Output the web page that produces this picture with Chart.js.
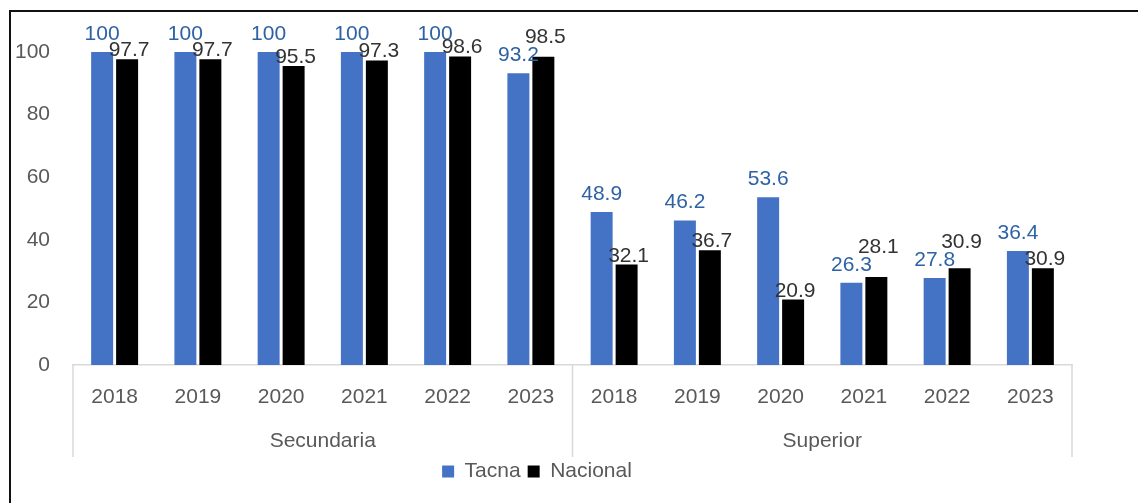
<!DOCTYPE html>
<html>
<head>
<meta charset="utf-8">
<script src="https://cdn.jsdelivr.net/npm/chart.js@4.4.1/dist/chart.umd.min.js"></script>
<style>
    html, body { margin: 0; padding: 0; background: #fff; overflow: hidden; }
    #frame {
        position: absolute; left: 9px; top: 10px;
        width: 1300px; height: 700px;
        border: 2px solid #111;
    }
    #wrap { position: absolute; left: 0; top: 0; width: 1138px; height: 503px; }
</style>
</head>
<body>
<div id="frame"></div>
<div id="wrap"><canvas id="chart" width="1138" height="503"></canvas></div>
<script>
// Categories and values
const years = ['2018', '2019', '2020', '2021', '2022', '2023', '2018', '2019', '2020', '2021', '2022', '2023'];
const groupLabels = ['Secundaria', 'Superior'];
const tacna = [100, 100, 100, 100, 100, 93.2, 48.9, 46.2, 53.6, 26.3, 27.8, 36.4];
const nacional = [97.7, 97.7, 95.5, 97.3, 98.6, 98.5, 32.1, 36.7, 20.9, 28.1, 30.9, 30.9];
const yTicks = [0, 20, 40, 60, 80, 100];

const FONT = "'Liberation Sans', Arial, sans-serif";
const axisGray = '#595959';
const lineGray = '#d9d9d9';

// value labels over each bar; the black label is lifted when it would sit on the blue one
const valueLabels = {
    id: 'valueLabels',
    afterDatasetsDraw(chart) {
        const ctx = chart.ctx;
        const blue = chart.getDatasetMeta(0).data;
        const black = chart.getDatasetMeta(1).data;
        const dsBlue = chart.data.datasets[0];
        const dsBlack = chart.data.datasets[1];
        ctx.save();
        ctx.font = '21px ' + FONT;
        ctx.textAlign = 'center';
        ctx.textBaseline = 'alphabetic';
        blue.forEach((bar, j) => {
            const yBlue = bar.y - dsBlue.labelGap;
            let yBlack = black[j].y - dsBlack.labelGap;
            if (Math.abs(yBlack - yBlue) < 12) yBlack = yBlue - 18;
            ctx.fillStyle = dsBlue.labelColor;
            ctx.fillText(String(dsBlue.data[j]), bar.x, yBlue);
            ctx.fillStyle = dsBlack.labelColor;
            ctx.fillText(String(dsBlack.data[j]), black[j].x + 2, yBlack);
        });
        ctx.restore();
    }
};

// vertical separators of the two-level category axis
const groupLines = {
    id: 'groupLines',
    afterDraw(chart) {
        const x = chart.scales.x;
        const x2 = chart.scales.x2;
        const area = chart.chartArea;
        const mid = (x.getPixelForValue(5) + x.getPixelForValue(6)) / 2;
        const ctx = chart.ctx;
        ctx.save();
        ctx.strokeStyle = lineGray;
        ctx.lineWidth = 1.5;
        [area.left, mid, area.right].forEach(px => {
            ctx.beginPath();
            ctx.moveTo(px, area.bottom);
            ctx.lineTo(px, x2.bottom + 3);
            ctx.stroke();
        });
        ctx.restore();
    }
};

new Chart(document.getElementById('chart'), {
    type: 'bar',
    data: {
        labels: years,
        datasets: [
            {
                label: 'Tacna',
                data: tacna,
                backgroundColor: '#4472C4',
                labelColor: '#2E62A4',
                labelGap: 12,
                categoryPercentage: 0.6,
                barPercentage: 0.88
            },
            {
                label: 'Nacional',
                data: nacional,
                backgroundColor: '#000000',
                labelColor: '#333333',
                labelGap: 3,
                categoryPercentage: 0.6,
                barPercentage: 0.88
            }
        ]
    },
    options: {
        responsive: false,
        animation: false,
        layout: { padding: { top: 52, right: 66, bottom: 11, left: 2 } },
        scales: {
            y: {
                min: 0,
                max: 100,
                afterBuildTicks: (scale) => { scale.ticks = yTicks.map(v => ({ value: v })); },
                afterFit: (scale) => { scale.width = 71; },
                grid: { display: false, drawTicks: false },
                border: { display: false },
                ticks: { color: axisGray, font: { family: FONT, size: 21 }, padding: 23 }
            },
            x: {
                afterFit: (scale) => { scale.height = 44; },
                grid: { display: false, drawTicks: false },
                border: { display: true, color: lineGray, width: 1.5 },
                ticks: { color: axisGray, font: { family: FONT, size: 21 }, padding: 20, maxRotation: 0, autoSkip: false }
            },
            x2: {
                type: 'category',
                position: 'bottom',
                labels: groupLabels,
                offset: true,
                afterFit: (scale) => { scale.height = 45; },
                grid: { display: false, drawTicks: false },
                border: { display: false },
                ticks: { color: axisGray, font: { family: FONT, size: 21 }, padding: 20, maxRotation: 0 }
            }
        },
        plugins: {
            legend: {
                position: 'bottom',
                labels: {
                    boxWidth: 12,
                    boxHeight: 12,
                    padding: 7,
                    color: axisGray,
                    font: { family: FONT, size: 21 }
                }
            },
            tooltip: { enabled: false }
        }
    },
    plugins: [valueLabels, groupLines]
});
</script>
</body>
</html>
